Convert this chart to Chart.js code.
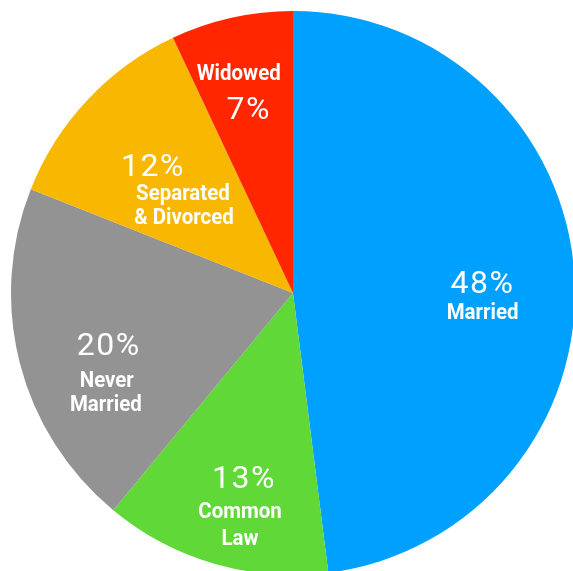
<!DOCTYPE html>
<html>
<head>
<meta charset="utf-8">
<script src="https://cdn.jsdelivr.net/npm/chart.js@4"></script>
<style>
  html, body { margin: 0; padding: 0; background: #fff; overflow: hidden; }
  #wrap { position: absolute; left: 0; top: 0; width: 586px; height: 586px; }
</style>
</head>
<body>
<div id="wrap"><canvas id="pieChart" width="586" height="586"></canvas></div>
<script>
// marital status shares (%), clockwise from 12 o'clock
var categories = ['Married', 'Common Law', 'Never Married', 'Separated & Divorced', 'Widowed'];
var shares = [48, 13, 20, 12, 7];
var nameLines = [['Married'], ['Common', 'Law'], ['Never', 'Married'], ['Separated', '& Divorced'], ['Widowed']];
var colors = ['#00A0FF', '#5FD838', '#939393', '#F8B700', '#FF2600'];

// where the text sits inside each slice: fraction of radius + per-line nudges
var labelLayout = [
  { frac: 0.67, pct: [0, 0],    names: [[1, 30]] },
  { frac: 0.75, pct: [9, -20],  names: [[6, 14], [6, 41]] },
  { frac: 0.70, pct: [6, 1],    names: [[5, 37], [4, 61]] },
  { frac: 0.55, pct: [-28, -22], names: [[3, 5], [4, 29]] },
  { frac: 0.72, pct: [-1, 13],  names: [[-10, -23]] }
];

var sliceLabels = {
  id: 'sliceLabels',
  afterDatasetsDraw: function (chart) {
    var ctx = chart.ctx;
    var meta = chart.getDatasetMeta(0);
    ctx.save();
    ctx.fillStyle = '#fff';
    ctx.textAlign = 'center';
    ctx.textBaseline = 'alphabetic';
    meta.data.forEach(function (arc, i) {
      var p = arc.getProps(['x', 'y', 'startAngle', 'endAngle', 'outerRadius'], true);
      var mid = (p.startAngle + p.endAngle) / 2;
      var lay = labelLayout[i];
      var ax = p.x + Math.cos(mid) * lay.frac * p.outerRadius;
      var ay = p.y + Math.sin(mid) * lay.frac * p.outerRadius;

      // percentage, regular weight and large
      ctx.font = '400 32px Roboto';
      ctx.letterSpacing = '1.5px';
      ctx.fillText(chart.data.datasets[0].data[i] + '%', ax + lay.pct[0] + 1, ay + lay.pct[1] + 11.5);

      // category name, bold, a little condensed
      ctx.letterSpacing = '0px';
      ctx.font = 'bold 22px Roboto';
      nameLines[i].forEach(function (txt, k) {
        var off = lay.names[k];
        ctx.save();
        ctx.translate(ax + off[0], ay + off[1] + 8);
        ctx.scale(0.93, 1);
        ctx.fillText(txt, 0, 0);
        ctx.restore();
      });
    });
    ctx.restore();
  }
};

var ctx = document.getElementById('pieChart');
var myPieChart = new Chart(ctx, {
  type: 'pie',
  data: {
    labels: categories,
    datasets: [{
      data: shares,
      backgroundColor: colors,
      borderWidth: 0
    }]
  },
  options: {
    responsive: false,
    animation: false,
    layout: { padding: 11 },
    plugins: {
      legend: { display: false },
      tooltip: { enabled: false }
    }
  },
  plugins: [sliceLabels]
});
</script>
</body>
</html>
